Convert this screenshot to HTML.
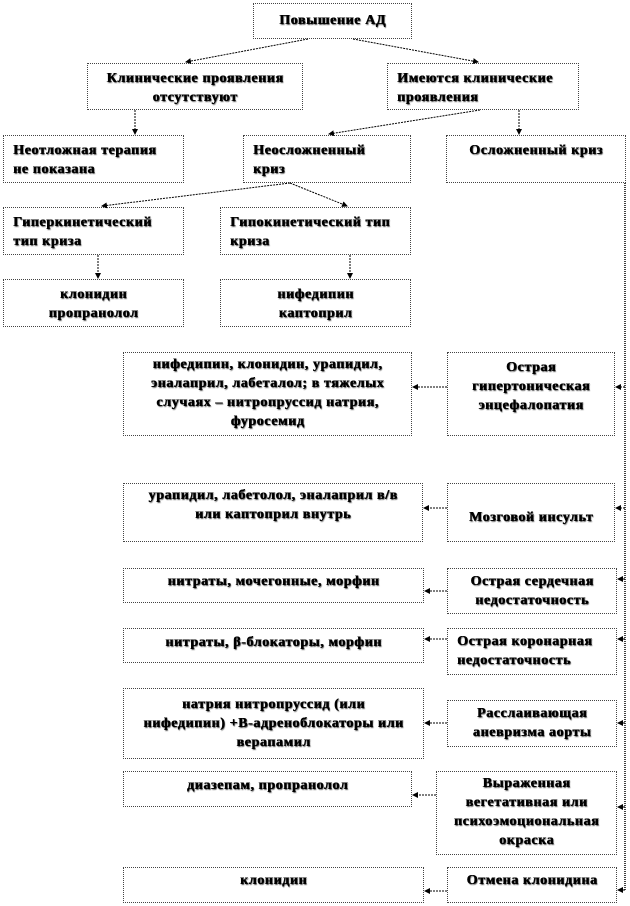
<!DOCTYPE html>
<html><head><meta charset="utf-8"><style>
body{margin:0;width:630px;height:906px;background:#fff;position:relative;overflow:hidden;
font-family:"Liberation Serif","Noto Serif CJK SC",serif;}
.b{position:absolute;box-sizing:border-box;border:1px dotted #444;font-weight:bold;font-size:14px;line-height:19px;color:#000;
text-shadow:0.6px 0 0 #000,1px 1px 1px #555;letter-spacing:0.6px;white-space:nowrap}
.c{text-align:center}
.l{text-align:left;padding-left:9px}
svg{position:absolute;left:0;top:0}
</style></head><body>
<div class="b c" style="left:253px;top:3px;width:159px;height:36px;padding-top:7px">Повышение АД</div>
<div class="b c" style="left:87px;top:63px;width:216px;height:47px;padding-top:5px">Клинические проявления<br>отсутствуют</div>
<div class="b l" style="left:387px;top:63px;width:192px;height:47px;padding-top:5px">Имеются клинические<br>проявления</div>
<div class="b l" style="left:3px;top:135px;width:181px;height:48px;padding-top:5px">Неотложная терапия<br>не показана</div>
<div class="b l" style="left:243px;top:135px;width:168px;height:48px;padding-top:5px">Неосложненный<br>криз</div>
<div class="b c" style="left:446px;top:135px;width:180px;height:48px;padding-top:5px">Осложненный криз</div>
<div class="b l" style="left:3px;top:207px;width:181px;height:48px;padding-top:5px">Гиперкинетический<br>тип криза</div>
<div class="b l" style="left:220px;top:207px;width:191px;height:48px;padding-top:5px">Гипокинетический тип<br>криза</div>
<div class="b c" style="left:3px;top:279px;width:181px;height:48px;padding-top:5px">клонидин<br>пропранолол</div>
<div class="b c" style="left:220px;top:279px;width:191px;height:48px;padding-top:5px">нифедипин<br>каптоприл</div>

<div class="b c" style="left:123px;top:352px;width:289px;height:84px;padding-top:2px">нифедипин, клонидин, урапидил,<br>эналаприл, лабеталол; в тяжелых<br>случаях – нитропруссид натрия,<br>фуросемид</div>
<div class="b c" style="left:447px;top:352px;width:168px;height:84px;padding-top:5px">Острая<br>гипертоническая<br>энцефалопатия</div>
<div class="b c" style="left:123px;top:483px;width:300px;height:59px;padding-top:2px">урапидил, лабетолол, эналаприл в/в<br>или каптоприл внутрь</div>
<div class="b c" style="left:447px;top:483px;width:168px;height:59px;padding-top:24px">Мозговой инсульт</div>
<div class="b c" style="left:123px;top:568px;width:301px;height:35px;padding-top:3px">нитраты, мочегонные, морфин</div>
<div class="b c" style="left:447px;top:568px;width:170px;height:46px;padding-top:3px">Острая сердечная<br>недостаточность</div>
<div class="b c" style="left:123px;top:628px;width:301px;height:35px;padding-top:4px">нитраты, β-блокаторы, морфин</div>
<div class="b l" style="left:447px;top:628px;width:170px;height:47px;padding-top:3px;padding-left:9px">Острая коронарная<br>недостаточность</div>
<div class="b c" style="left:123px;top:688px;width:301px;height:71px;padding-top:6px">натрия нитропруссид (или<br>нифедипин) +В-адреноблокаторы или<br>верапамил</div>
<div class="b c" style="left:447px;top:700px;width:170px;height:47px;padding-top:3px">Расслаивающая<br>аневризма аорты</div>
<div class="b c" style="left:123px;top:771px;width:289px;height:36px;padding-top:4px">диазепам, пропранолол</div>
<div class="b c" style="left:436px;top:771px;width:181px;height:84px;padding-top:2px">Выраженная<br>вегетативная или<br>психоэмоциональная<br>окраска</div>
<div class="b c" style="left:123px;top:867px;width:301px;height:36px;padding-top:3px">клонидин</div>
<div class="b c" style="left:447px;top:867px;width:170px;height:36px;padding-top:3px">Отмена клонидина</div>

<svg width="630" height="906" viewBox="0 0 630 906">
<defs><marker id="a" markerWidth="6" markerHeight="6" refX="5" refY="3" orient="auto"><path d="M0,0 L6,3 L0,6z" fill="#000"/></marker></defs>
<g stroke="#000" stroke-width="1" stroke-dasharray="2,1" fill="none" marker-end="url(#a)">
<line x1="308" y1="39" x2="186" y2="62"/>
<line x1="353" y1="39" x2="478" y2="62"/>
<line x1="135" y1="110" x2="135" y2="134"/>
<line x1="480" y1="110" x2="329" y2="134"/>
<line x1="519" y1="110" x2="519" y2="134"/>
<line x1="290" y1="183" x2="102" y2="206"/>
<line x1="290" y1="183" x2="347" y2="206"/>
<line x1="98" y1="255" x2="98" y2="278"/>
<line x1="350" y1="255" x2="350" y2="278"/>
<line x1="447" y1="387" x2="413" y2="387"/>
<line x1="447" y1="508" x2="424" y2="508"/>
<line x1="447" y1="591" x2="425" y2="591"/>
<line x1="447" y1="639" x2="425" y2="639"/>
<line x1="447" y1="723" x2="425" y2="723"/>
<line x1="436" y1="795" x2="413" y2="795"/>
<line x1="447" y1="891" x2="425" y2="891"/>
<line x1="625" y1="387" x2="616" y2="387"/>
<line x1="625" y1="508" x2="616" y2="508"/>
<line x1="625" y1="579" x2="618" y2="579"/>
<line x1="625" y1="639" x2="618" y2="639"/>
<line x1="625" y1="723" x2="618" y2="723"/>
<line x1="625" y1="807" x2="618" y2="807"/>
<line x1="625" y1="890" x2="618" y2="890"/>
</g>
<line x1="625" y1="183" x2="625" y2="891" stroke="#000" stroke-width="1.5" stroke-dasharray="1,1"/>
</svg>
</body></html>
